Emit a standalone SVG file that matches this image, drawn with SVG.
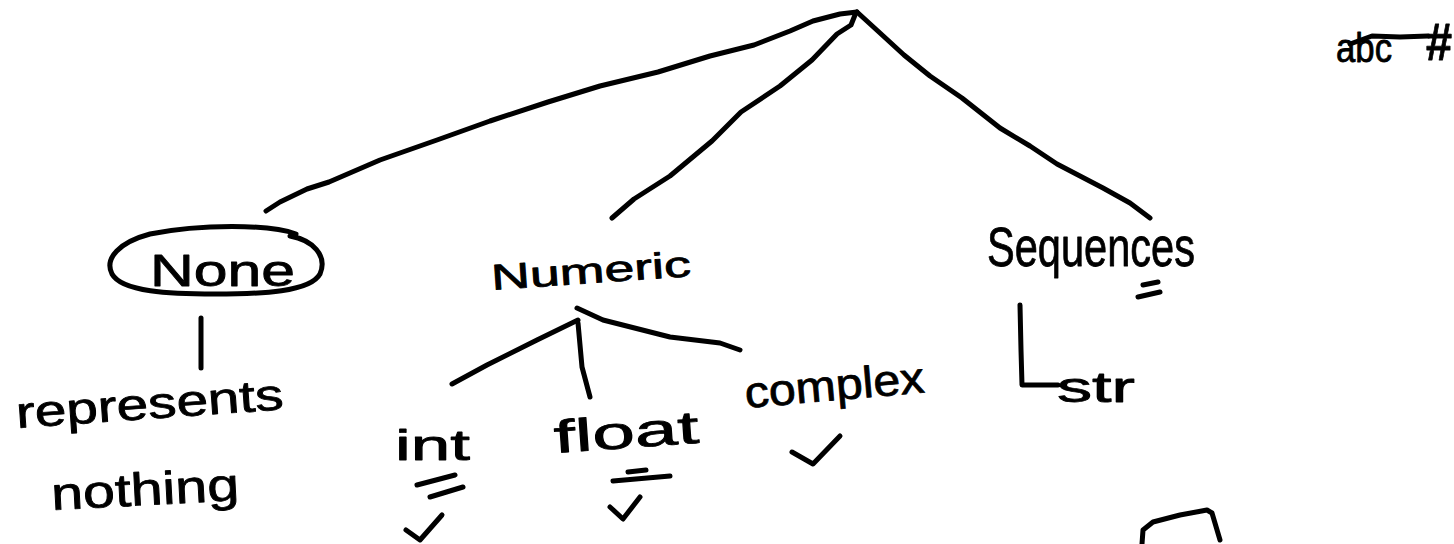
<svg xmlns="http://www.w3.org/2000/svg" width="1454" height="544" viewBox="0 0 1454 544">
  <style>
    .ink { fill: none; stroke: #000; stroke-width: 5; stroke-linecap: round; stroke-linejoin: round; }
    .hand { font-family: "Liberation Sans", "DejaVu Sans", sans-serif; fill: #000; stroke: #000; stroke-width: 0.8; stroke-linejoin: round; }
  </style>
  <rect width="1454" height="544" fill="#fff"/>

  <!-- tree connectors -->
  <g id="connectors" class="ink">
    <polyline points="266,211 280,202 307,189 329,182 380,160 437,140 490,121 548,102 600,86 658,72 710,56 754,45 790,31 813,21 840,14 857,12"/>
    <polyline points="612,218 634,199 670,176 712,141 741,112 780,86 812,60 837,34 851,25 855,15"/>
    <polyline points="857,12 880,33 904,55 930,76 962,98 1000,128 1030,146 1057,164 1103,188 1130,203 1150,218"/>
    <polyline points="201,318 201,368"/>
    <polyline points="452,384 487,365 537,340 578,320"/>
    <polyline points="578,323 582,367 590,397"/>
    <polyline points="577,308 603,320 670,337 720,343 740,350"/>
    <polyline points="1020,305 1021,350 1022,385 1058,385"/>
  </g>

  <!-- root scribble -->
  <g id="scribble">
    <text class="hand" x="1336" y="62" font-size="40" textLength="56" lengthAdjust="spacingAndGlyphs">abc</text>
    <polyline class="ink" points="1350,44 1372,36 1400,37 1428,36"/>
    <text class="hand" x="1426" y="60" font-size="52" font-weight="bold" textLength="26" lengthAdjust="spacingAndGlyphs">#</text>
  </g>

  <g id="none">
    <path class="ink" d="M296,234 C270,224 200,224 150,234 C120,242 104,258 112,274 C122,292 170,294 215,294 C262,294 310,292 320,274 C328,255 312,240 290,236"/>
    <text class="hand" x="150" y="286" font-size="44" textLength="145" lengthAdjust="spacingAndGlyphs">None</text>
  </g>

  <g id="represents-nothing">
    <text class="hand" x="17" y="428" font-size="44" textLength="268" lengthAdjust="spacingAndGlyphs" transform="rotate(-4 17 428)">represents</text>
    <text class="hand" x="52" y="510" font-size="46" textLength="188" lengthAdjust="spacingAndGlyphs" transform="rotate(-3 52 510)">nothing</text>
  </g>

  <g id="numeric">
    <text class="hand" x="492" y="290" font-size="36" textLength="200" lengthAdjust="spacingAndGlyphs" transform="rotate(-4 492 290)">Numeric</text>
  </g>

  <g id="int">
    <text class="hand" x="395" y="460" font-size="42" textLength="75" lengthAdjust="spacingAndGlyphs">int</text>
    <polyline class="ink" points="417,485 455,475"/>
    <polyline class="ink" points="430,497 463,487"/>
    <polyline class="ink" points="406,530 420,540 442,515"/>
  </g>

  <g id="float">
    <text class="hand" x="555" y="453" font-size="46" textLength="145" lengthAdjust="spacingAndGlyphs" transform="rotate(-4 555 453)">float</text>
    <polyline class="ink" points="628,472 646,470"/>
    <polyline class="ink" points="613,481 670,476"/>
    <polyline class="ink" points="610,507 623,519 640,497"/>
  </g>

  <g id="complex">
    <text class="hand" x="746" y="408" font-size="44" textLength="180" lengthAdjust="spacingAndGlyphs" transform="rotate(-5 746 408)">complex</text>
    <polyline class="ink" points="792,452 813,464 840,436"/>
  </g>

  <g id="sequences">
    <text class="hand" x="987" y="266" font-size="56" textLength="208" lengthAdjust="spacingAndGlyphs">Sequences</text>
    <polyline class="ink" points="1143,285 1158,282"/>
    <polyline class="ink" points="1138,297 1160,292"/>
  </g>

  <g id="str">
    <text class="hand" x="1057" y="402" font-size="42" textLength="78" lengthAdjust="spacingAndGlyphs">str</text>
  </g>

  <!-- box started at the lower edge -->
  <g id="box">
    <polyline class="ink" points="1142,544 1143,530 1153,522 1180,515 1207,510 1212,513 1220,540"/>
  </g>
</svg>
